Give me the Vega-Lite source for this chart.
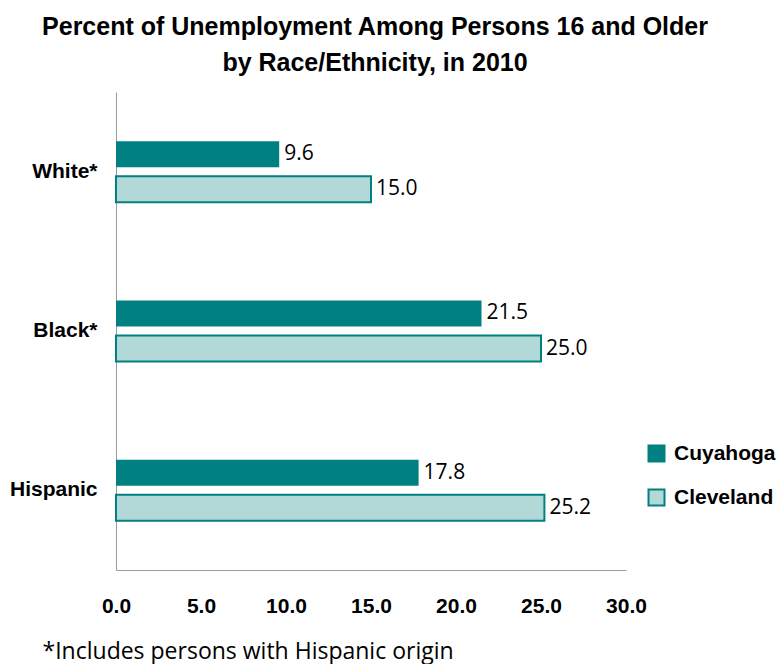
{
  "$schema": "https://vega.github.io/schema/vega-lite/v6.json",
  "autosize": {"type": "none"},
  "width": 510,
  "height": 478,
  "padding": {"left": 116, "top": 92, "right": 153, "bottom": 94},
  "background": "white",
  "title": {
    "text": ["Percent of Unemployment Among Persons 16 and Older", "by Race/Ethnicity, in 2010"],
    "font": "Liberation Sans, Arial, sans-serif",
    "fontSize": 25,
    "fontWeight": "bold",
    "color": "#000000",
    "lineHeight": 36,
    "anchor": "middle",
    "dx": 4,
    "offset": 16
  },
  "data": {
    "values": [
      {"race": "White*", "area": "Cuyahoga", "pct": 9.6},
      {"race": "White*", "area": "Cleveland", "pct": 15.0},
      {"race": "Black*", "area": "Cuyahoga", "pct": 21.5},
      {"race": "Black*", "area": "Cleveland", "pct": 25.0},
      {"race": "Hispanic", "area": "Cuyahoga", "pct": 17.8},
      {"race": "Hispanic", "area": "Cleveland", "pct": 25.2}
    ]
  },
  "encoding": {
    "y": {
      "field": "race",
      "type": "nominal",
      "sort": ["White*", "Black*", "Hispanic"],
      "scale": {"paddingInner": 0.617, "paddingOuter": 0.3085},
      "axis": {
        "title": null,
        "ticks": false,
        "domainColor": "#9a9a9a",
        "domainWidth": 1,
        "labelFont": "Liberation Sans, Arial, sans-serif",
        "labelFontSize": 21,
        "labelFontWeight": "bold",
        "labelColor": "#000000",
        "labelPadding": 19
      }
    },
    "yOffset": {
      "field": "area",
      "type": "nominal",
      "sort": ["Cuyahoga", "Cleveland"],
      "scale": {"paddingInner": 0.257, "paddingOuter": 0}
    },
    "x": {
      "field": "pct",
      "type": "quantitative",
      "scale": {"domain": [0, 30], "nice": false},
      "axis": {
        "values": [0, 5, 10, 15, 20, 25, 30],
        "format": ".1f",
        "grid": false,
        "ticks": false,
        "labelFlush": false,
        "domainColor": "#9a9a9a",
        "domainWidth": 1,
        "labelFont": "Liberation Sans, Arial, sans-serif",
        "labelFontSize": 21,
        "labelFontWeight": "bold",
        "labelColor": "#000000",
        "labelPadding": 25,
        "title": "*Includes persons with Hispanic origin",
        "titleFont": "Open Sans, Noto Sans, sans-serif",
        "titleFontSize": 23,
        "titleFontWeight": "normal",
        "titleColor": "#000000",
        "titleAlign": "left",
        "titleAnchor": "start",
        "titleBaseline": "alphabetic",
        "titleX": -74,
        "titleY": 88
      }
    }
  },
  "layer": [
    {
      "mark": {"type": "bar", "stroke": "#008080"},
      "encoding": {
        "fill": {
          "field": "area",
          "type": "nominal",
          "scale": {"domain": ["Cuyahoga", "Cleveland"], "range": ["#008080", "#b3d8d8"]},
          "legend": {
            "title": null,
            "orient": "none",
            "legendX": 530,
            "legendY": 351,
            "symbolType": "square",
            "symbolSize": 256,
            "symbolStrokeColor": "#008080",
            "symbolStrokeWidth": 2,
            "labelFont": "Liberation Sans, Arial, sans-serif",
            "labelFontSize": 21,
            "labelFontWeight": "bold",
            "labelColor": "#000000",
            "labelOffset": 7,
            "rowPadding": 19
          }
        },
        "strokeWidth": {
          "condition": {"test": "datum.area === 'Cleveland'", "value": 2},
          "value": 0
        }
      }
    },
    {
      "mark": {
        "type": "text",
        "align": "left",
        "baseline": "middle",
        "dx": 5,
        "font": "Open Sans, Noto Sans, sans-serif",
        "fontSize": 21,
        "color": "#000000"
      },
      "encoding": {
        "text": {"field": "pct", "type": "quantitative", "format": ".1f"}
      }
    }
  ],
  "config": {"view": {"stroke": null}}
}
